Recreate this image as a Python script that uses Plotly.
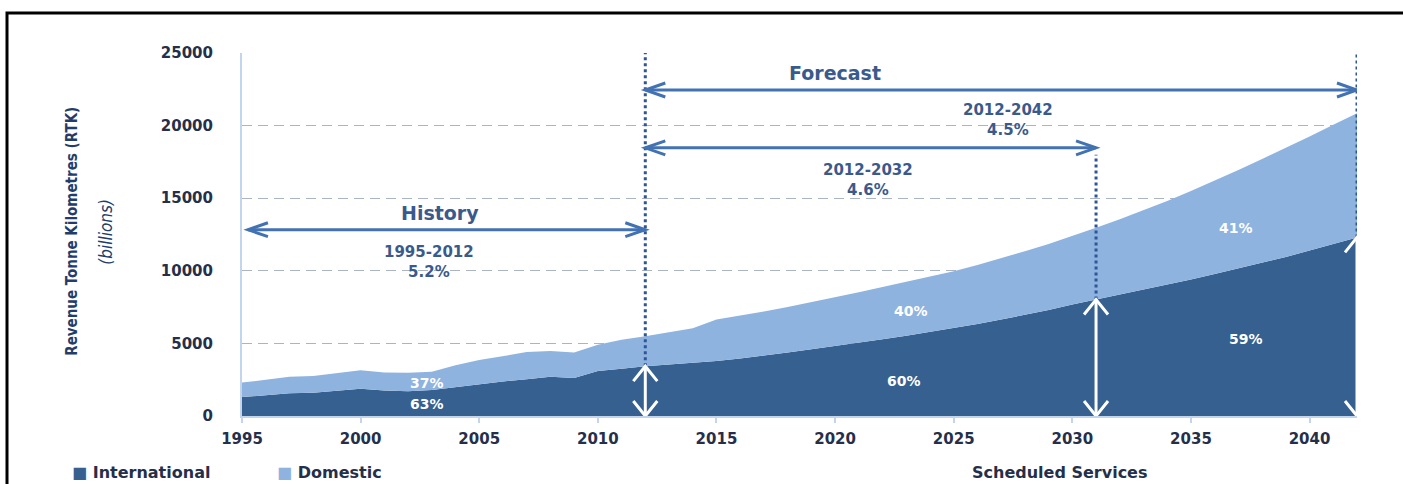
import plotly.graph_objects as go

# ---- data (billions of RTK, scheduled services) ----
years = list(range(1995, 2043))

international = [
    1300, 1420, 1560, 1600, 1740, 1880, 1760, 1700, 1790, 2000,
    2180, 2380, 2530, 2700, 2620, 3100, 3250, 3430, 3550, 3650,
    3780, 3960, 4150, 4370, 4590, 4810, 5040, 5280, 5530, 5790,
    6070, 6340, 6640, 6960, 7300, 7680, 8020, 8350, 8680, 9030,
    9400, 9780, 10160, 10550, 10950, 11400, 11850, 12300,
]

domestic = [
    1000, 1080, 1140, 1150, 1210, 1270, 1240, 1280, 1260, 1500,
    1670, 1770, 1870, 1780, 1760, 1800, 2000, 2070, 2200, 2400,
    2870, 2940, 3050, 3130, 3240, 3370, 3480, 3600, 3720, 3810,
    3900, 4060, 4210, 4390, 4550, 4710, 4940, 5200, 5470, 5770,
    6100, 6420, 6790, 7150, 7500, 7850, 8200, 8550,
]

x_ticks = [1995, 2000, 2005, 2010, 2015, 2020, 2025, 2030, 2035, 2040]
y_ticks = [0, 5000, 10000, 15000, 20000, 25000]

# period boundaries used by the arrows and dotted markers
history_start = 1995
forecast_start = 2012
mid_end = 2031
forecast_end = 2042

series_names = ["International", "Domestic"]
period_labels = ["History", "Forecast"]
growth_labels = ["1995-2012<br>5.2%", "2012-2032<br>4.6%", "2012-2042<br>4.5%"]
share_labels = ["63%", "37%", "60%", "40%", "59%", "41%"]

# ---- styling ----
C_INTL = "#35608f"
C_DOM = "#8fb3df"
C_TEXT = "#262f4a"
C_NOTE = "#3b5a8c"
C_ARROW = "#4372b3"
C_DOT = "#2f5597"
C_AXIS = "#c3d5ec"
C_YTITLE = "#233d6b"
BOLD = "DejaVu Sans"
NARROW = "Liberation Sans Narrow, DejaVu Sans Condensed, sans-serif"

W, H = 1403, 484
L, R, T, B = 242, 46, 53, 67.5
X0, X1 = 1995, 2042
Y0, Y1 = 0, 25000
px_x = (W - L - R) / (X1 - X0)        # pixels per year
px_y = (H - T - B) / (Y1 - Y0)        # pixels per RTK unit


def dx(p):
    return p / px_x


def dy(p):
    return p / px_y


def hline_arrow(x_a, x_b, y, color, both=True):
    shapes = [dict(type="line", xref="x", yref="y", x0=x_a, x1=x_b, y0=y, y1=y,
                   line=dict(color=color, width=3))]
    hl, hh = dx(20), dy(7)
    heads = [(x_b, -1)] + ([(x_a, 1)] if both else [])
    for xt, s in heads:
        shapes.append(dict(
            type="path", xref="x", yref="y",
            path=f"M {xt + s * hl},{y + hh} L {xt},{y} L {xt + s * hl},{y - hh}",
            line=dict(color=color, width=3)))
    return shapes


def vline_arrow(x, y_bot, y_top, color):
    shapes = [dict(type="line", xref="x", yref="y", x0=x, x1=x, y0=y_bot, y1=y_top,
                   line=dict(color=color, width=3))]
    hw, hl = dx(12), dy(15)
    for yt, s in [(y_top, -1), (y_bot, 1)]:
        shapes.append(dict(
            type="path", xref="x", yref="y",
            path=f"M {x - hw},{yt + s * hl} L {x},{yt} L {x + hw},{yt + s * hl}",
            line=dict(color=color, width=3)))
    return shapes


def value_at(series, yr):
    return series[years.index(yr)]


fig = go.Figure()
fig.add_trace(go.Scatter(x=years, y=international, name=series_names[0],
                         stackgroup="one", mode="lines", line=dict(width=0, color=C_INTL),
                         fillcolor=C_INTL))
fig.add_trace(go.Scatter(x=years, y=domestic, name=series_names[1],
                         stackgroup="one", mode="lines", line=dict(width=0, color=C_DOM),
                         fillcolor=C_DOM))

shapes = []
# dotted period markers
for xm, top in [(forecast_start, Y1), (mid_end, 18000), (forecast_end, Y1)]:
    shapes.append(dict(type="line", xref="x", yref="y", x0=xm, x1=xm,
                       y0=value_at(international, xm), y1=top,
                       line=dict(color=C_DOT, width=3, dash="dot")))
# period arrows
shapes += hline_arrow(forecast_start, forecast_end, 22450, C_ARROW)
shapes += hline_arrow(forecast_start, mid_end, 18470, C_ARROW)
shapes += hline_arrow(history_start + 0.25, forecast_start, 12830, C_ARROW)
# white height arrows inside the international band
for xm in [forecast_start, mid_end, forecast_end]:
    shapes += vline_arrow(xm, 0, value_at(international, xm), "white")


def paper_x(p):
    return (p - L) / (W - L - R)


def paper_y(p):
    return (H - B - p) / (H - T - B)


# outer frame (open to the right and bottom of the page)
shapes.append(dict(type="rect", xref="paper", yref="paper",
                   x0=paper_x(7), x1=paper_x(W + 30), y0=paper_y(H + 30), y1=paper_y(13),
                   line=dict(color="black", width=3), fillcolor="rgba(0,0,0,0)", layer="above"))

annotations = []
note_font = dict(family=BOLD, size=15, color=C_NOTE, weight="bold")
big_font = dict(family=BOLD, size=19, color=C_NOTE, weight="bold")
annotations += [
    dict(x=2020.0, y=23620, text=period_labels[1], font=big_font),
    dict(x=2003.35, y=13990, text=period_labels[0], font=big_font),
    dict(x=2027.3, y=20420, text=growth_labels[2], font=note_font),
    dict(x=2021.4, y=16230, text=growth_labels[1], font=note_font),
    dict(x=2002.9, y=10590, text=growth_labels[0], font=note_font),
]
share_font = dict(family=BOLD, size=14, color="white", weight="bold")
share_pos = [(2002.8, 860), (2002.8, 2300), (2022.9, 2440), (2023.2, 7260),
             (2037.3, 5330), (2036.9, 12960)]
for (sx, sy), txt in zip(share_pos, share_labels):
    annotations.append(dict(x=sx, y=sy, text=txt, font=share_font))
for a in annotations:
    a.update(xref="x", yref="y", showarrow=False, xanchor="center", yanchor="middle")

leg_font = dict(family=BOLD, size=16, color=C_TEXT, weight="bold")
paper_notes = [
    dict(x=paper_x(72), y=paper_y(232), text="Revenue Tonne Kilometres (RTK)", textangle=-90,
         font=dict(family=NARROW, size=15, color=C_YTITLE, weight="bold")),
    dict(x=paper_x(106), y=paper_y(232), text="<i>(billions)</i>", textangle=-90,
         font=dict(family=NARROW, size=17, color=C_YTITLE)),
    dict(x=paper_x(70), y=paper_y(473), xanchor="left",
         text=f"<span style='color:{C_INTL}'>■</span> {series_names[0]}", font=leg_font),
    dict(x=paper_x(275), y=paper_y(473), xanchor="left",
         text=f"<span style='color:{C_DOM}'>■</span> {series_names[1]}", font=leg_font),
    dict(x=paper_x(1060), y=paper_y(473), xanchor="center",
         text="Scheduled Services", font=leg_font),
]
for a in paper_notes:
    a.update(xref="paper", yref="paper", showarrow=False)
    a.setdefault("xanchor", "center")
    a.setdefault("yanchor", "middle")
annotations += paper_notes

fig.update_layout(
    width=W, height=H,
    margin=dict(l=L, r=R, t=T, b=B, pad=0),
    paper_bgcolor="white", plot_bgcolor="white",
    showlegend=False,
    shapes=shapes,
    annotations=annotations,
    xaxis=dict(range=[X0, X1], tickvals=x_ticks, ticktext=[str(v) for v in x_ticks],
               showgrid=False, zeroline=False, showline=True, linecolor=C_AXIS, linewidth=2,
               ticks="outside", ticklen=5, tickwidth=1.5, tickcolor=C_AXIS,
               tickfont=dict(family=BOLD, size=15, color=C_TEXT, weight="bold"),
               ticklabelstandoff=3),
    yaxis=dict(range=[Y0, Y1], tickvals=y_ticks, ticktext=[str(v) for v in y_ticks],
               showgrid=True, gridcolor="#aab4c3", gridwidth=1.3, griddash="10px,6px",
               zeroline=False, showline=True, linecolor=C_AXIS, linewidth=2, ticks="",
               tickfont=dict(family=BOLD, size=15, color=C_TEXT, weight="bold"),
               ticklabelstandoff=24),
)

fig.write_html("out.html")
